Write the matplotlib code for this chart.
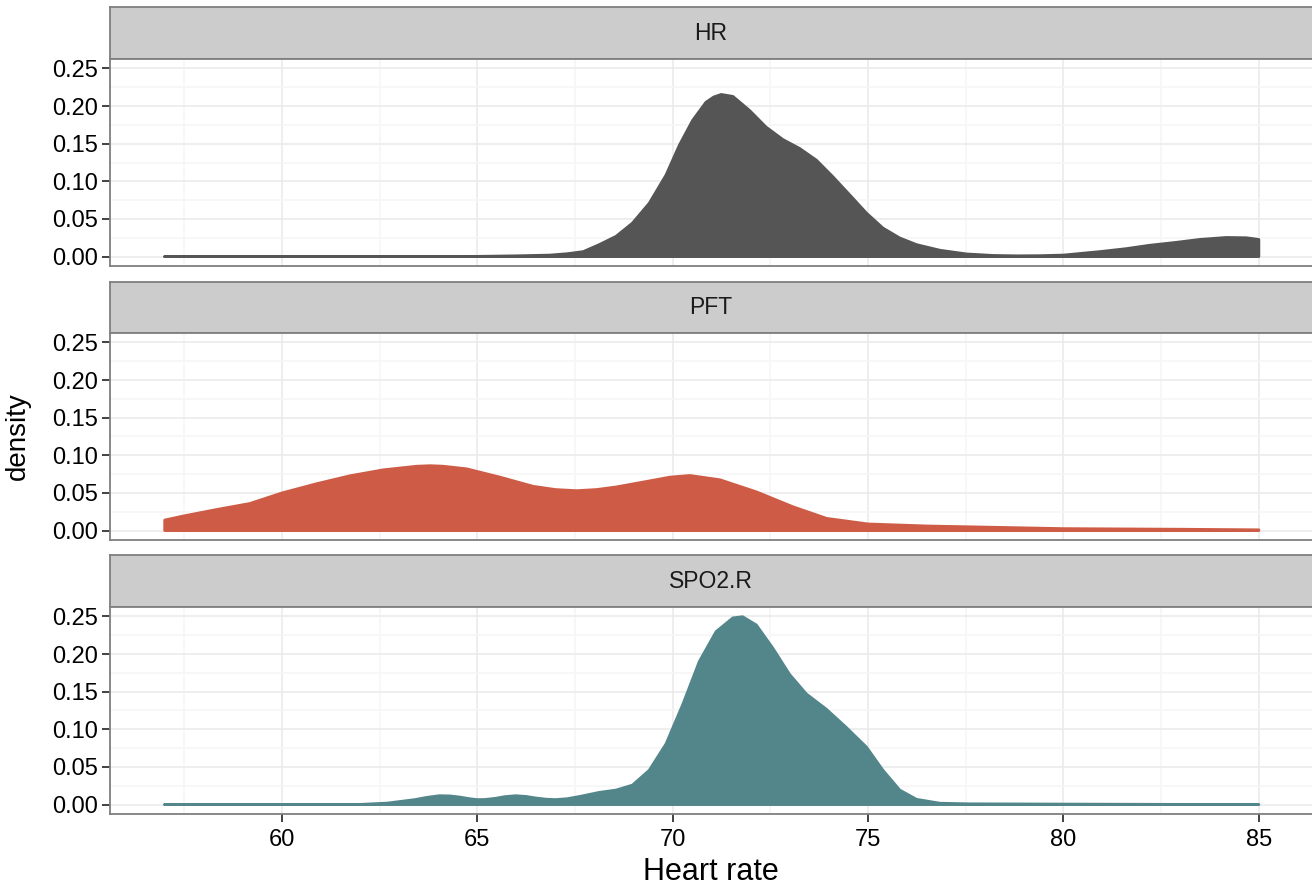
import numpy as np
import matplotlib
matplotlib.use("Agg")
import matplotlib.pyplot as plt
from matplotlib.ticker import MultipleLocator

plt.rcParams['font.family'] = ['Liberation Sans', 'DejaVu Sans']

# densities (x = heart rate, y = density)
facets = ["HR", "PFT", "SPO2.R"]
colors = ["#555555", "#CD5B45", "#53868B"]

hr_x = [57, 62, 65, 66, 66.86, 67.3, 67.71, 68.12, 68.55, 68.97, 69.40, 69.83, 70.17, 70.51,
        70.85, 71.05, 71.24, 71.54, 71.97, 72.39, 72.82, 73.25, 73.68, 74.10, 74.53, 74.96,
        75.38, 75.81, 76.24, 76.84, 77.52, 78.2, 78.8, 79.4, 80.0, 80.93, 81.6, 82.2, 82.9,
        83.49, 84.17, 84.68, 85.0]
hr_y = [0, 0, 0.0003, 0.001, 0.002, 0.0038, 0.0066, 0.0159, 0.0269, 0.0445, 0.0709, 0.1084,
        0.148, 0.181, 0.205, 0.212, 0.2154, 0.2128, 0.194, 0.172, 0.1555, 0.1436, 0.128, 0.106,
        0.082, 0.0577, 0.0379, 0.0247, 0.0159, 0.0084, 0.0035, 0.0015, 0.001, 0.0012, 0.002,
        0.0066, 0.0105, 0.015, 0.019, 0.0228, 0.0254, 0.025, 0.0228]

pft_x = [57, 57.47, 58.33, 59.18, 60.0, 60.89, 61.74, 62.59, 63.45, 63.8, 64.13, 64.73, 65.58,
         66.43, 67.0, 67.54, 68.05, 68.56, 69.25, 69.93, 70.44, 71.21, 72.15, 73.08, 73.94,
         75.0, 76.5, 78.2, 79.99, 82.98, 85.0]
pft_y = [0.014, 0.0193, 0.028, 0.036, 0.050, 0.0623, 0.0728, 0.0807, 0.0855, 0.0862, 0.0855,
         0.082, 0.071, 0.0588, 0.0545, 0.053, 0.0545, 0.058, 0.0645, 0.071, 0.0732, 0.0675,
         0.0513, 0.0316, 0.0162, 0.0088, 0.0061, 0.0044, 0.0026, 0.0018, 0.001]

spo_x = [57, 61.9, 62.7, 63.4, 63.7, 64.03, 64.3, 64.55, 64.8, 65.0, 65.2, 65.46, 65.7, 65.98,
         66.25, 66.49, 66.75, 67.0, 67.3, 67.64, 68.12, 68.55, 68.97, 69.40, 69.83, 70.26,
         70.68, 71.11, 71.54, 71.79, 72.14, 72.56, 72.99, 73.42, 73.93, 74.44, 74.96, 75.38,
         75.81, 76.24, 76.84, 77.6, 85]
spo_y = [0, 0, 0.002, 0.0066, 0.0095, 0.0118, 0.0115, 0.010, 0.0078, 0.0066, 0.0068, 0.0083,
         0.0105, 0.0118, 0.0108, 0.0088, 0.0072, 0.0066, 0.0078, 0.011, 0.0162, 0.0193, 0.0259,
         0.0456, 0.0807, 0.1333, 0.190, 0.2298, 0.248, 0.2496, 0.2386, 0.208, 0.173, 0.147,
         0.1268, 0.1026, 0.0763, 0.0456, 0.0193, 0.007, 0.0018, 0.001, 0]

series = [(hr_x, hr_y), (pft_x, pft_y), (spo_x, spo_y)]

W, H = 1312, 889
fig = plt.figure(figsize=(W / 100, H / 100), dpi=100)


def box(l, t, r, b):
    return [l / W, 1 - b / H, (r - l) / W, (b - t) / H]


# (strip top, panel top, panel bottom) in pixels
rows = [(7, 59, 266), (282, 333, 540), (555, 607, 814)]
border = "#7F7F7F"

for i, (name, col, (xs, ys), (st, pt, pb)) in enumerate(zip(facets, colors, series, rows)):
    # strip
    sax = fig.add_axes(box(110, st, 1312, pt))
    sax.set_facecolor("#CCCCCC")
    sax.set_xticks([])
    sax.set_yticks([])
    for s in sax.spines.values():
        s.set_color(border)
        s.set_linewidth(1.3)
    sax.spines["right"].set_visible(False)
    sax.text(0.5, 0.5, name, ha="center", va="center", fontsize=16.5, color="#1A1A1A",
             transform=sax.transAxes)

    # panel
    ax = fig.add_axes(box(110, pt, 1312, pb))
    xs = np.array(xs)
    ys = np.array(ys)
    px = np.concatenate([xs, [xs[-1], xs[0]]])
    py = np.concatenate([ys, [0, 0]])
    ax.fill(px, py, facecolor=col, edgecolor=col, linewidth=2, joinstyle="round", zorder=3)

    ax.set_xlim(55.6, 86.36)
    ax.set_ylim(-0.0125, 0.2625)
    ax.xaxis.set_major_locator(MultipleLocator(5))
    ax.xaxis.set_minor_locator(MultipleLocator(2.5))
    ax.yaxis.set_major_locator(MultipleLocator(0.05))
    ax.yaxis.set_minor_locator(MultipleLocator(0.025))
    ax.yaxis.set_major_formatter(plt.FuncFormatter(lambda v, p: f"{v:.2f}"))
    ax.grid(which="major", color="#EBEBEB", linewidth=1.2)
    ax.grid(which="minor", color="#F6F6F6", linewidth=1.2)
    ax.set_axisbelow(True)
    ax.tick_params(which="major", direction="out", length=5.5, width=1.3, color="#333333",
                   labelsize=17, labelcolor="black", pad=3)
    ax.tick_params(axis="x", pad=5)
    ax.tick_params(which="minor", length=0)
    for s in ax.spines.values():
        s.set_color(border)
        s.set_linewidth(1.3)
    ax.spines["right"].set_visible(False)
    if i < 2:
        ax.tick_params(axis="x", which="both", bottom=False, labelbottom=False)

fig.text(18 / W, 1 - 436 / H, "density", rotation=90, ha="center", va="center", fontsize=20)
fig.text(711 / W, 1 - 872 / H, "Heart rate", ha="center", va="center", fontsize=22)

fig.savefig("out.png", dpi=100)
